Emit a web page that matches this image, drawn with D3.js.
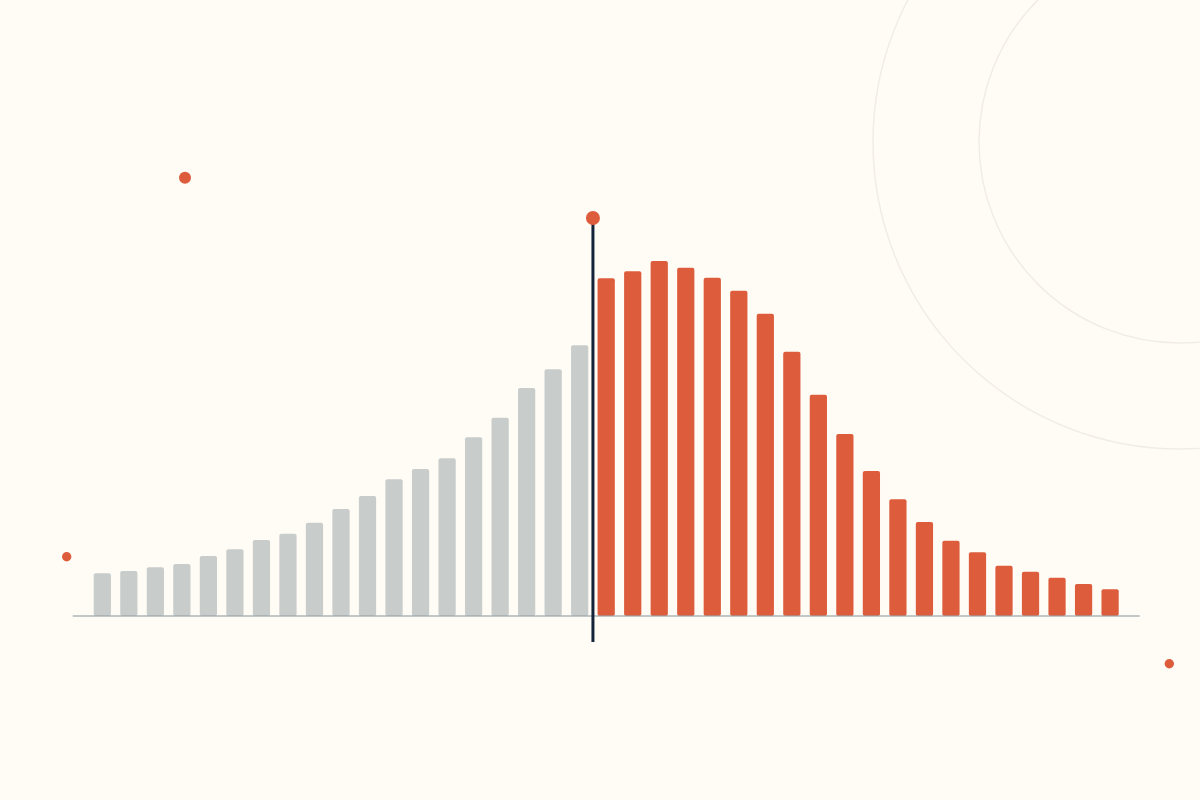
<!DOCTYPE html>
<html>
<head>
<meta charset="utf-8">
<script src="https://cdn.jsdelivr.net/npm/d3@7"></script>
<style>
  html, body { margin: 0; padding: 0; background: #fffcf5; }
  svg { display: block; }
</style>
</head>
<body>
<div id="chart"></div>
<script>
// values (height units)
let beforeValues = [42.7, 45, 48.7, 52, 60, 66.7, 76, 82.3, 93.3, 107, 120, 136.7, 147, 157.7, 178.7, 198.3, 228, 246.7, 270.7]
let afterValues = [337.7, 344.7, 355, 348.3, 338.3, 325.3, 302.3, 264.3, 221.3, 182, 145, 116.7, 94, 75.3, 63.7, 50.3, 44.3, 38.3, 32, 26.7]
let markerValue = 398

let width = 1200
let height = 800

let bars = beforeValues.map((v, i) => ({ i: i, v: v, side: 'before' }))
    .concat(afterValues.map((v, i) => ({ i: beforeValues.length + i, v: v, side: 'after' })))

let svg = d3.select('#chart')
    .append('svg')
    .attr('width', width)
    .attr('height', height)

svg.append('rect')
    .attr('width', width)
    .attr('height', height)
    .attr('fill', '#fffcf5')

// background rings, top right
svg.selectAll('.ring')
    .data([201, 307])
    .enter()
    .append('circle')
    .attr('class', 'ring')
    .attr('cx', 1180)
    .attr('cy', 142)
    .attr('r', (d) => d)
    .attr('fill', 'none')
    .attr('stroke', '#f1ede6')
    .attr('stroke-width', 1.5)

let x = d3.scaleBand()
    .domain(d3.range(bars.length))
    .range([93.7, 1118.7])
    .paddingInner(0.35)
    .paddingOuter(0)

let y = d3.scaleLinear()
    .domain([0, 400])
    .range([616, 216])

svg.selectAll('.bar')
    .data(bars)
    .enter()
    .append('rect')
    .attr('class', 'bar')
    .attr('x', (d) => x(d.i))
    .attr('y', (d) => y(d.v))
    .attr('width', x.bandwidth())
    .attr('height', (d) => y(0) - y(d.v))
    .attr('rx', 2)
    .attr('fill', (d) => d.side === 'before' ? '#c8cccb' : '#dd5c3c')

// baseline
svg.append('line')
    .attr('x1', x(0) - 21)
    .attr('x2', x(bars.length - 1) + x.bandwidth() + 21)
    .attr('y1', y(0))
    .attr('y2', y(0))
    .attr('stroke', '#97a1a6')
    .attr('stroke-opacity', 0.6)
    .attr('stroke-width', 2)

// marker between the two groups
let split = beforeValues.length
let mx = (x(split - 1) + x.bandwidth() + x(split)) / 2

svg.append('line')
    .attr('x1', mx)
    .attr('x2', mx)
    .attr('y1', y(markerValue))
    .attr('y2', y(0) + 26)
    .attr('stroke', '#13233a')
    .attr('stroke-width', 3)

svg.append('circle')
    .attr('cx', mx)
    .attr('cy', y(markerValue))
    .attr('r', 7)
    .attr('fill', '#dd5c3c')

// loose dots
let dots = [[185, 177.7, 6], [66.7, 556.7, 4.7], [1169.3, 663.7, 4.7]]

svg.selectAll('.dot')
    .data(dots)
    .enter()
    .append('circle')
    .attr('class', 'dot')
    .attr('cx', (d) => d[0])
    .attr('cy', (d) => d[1])
    .attr('r', (d) => d[2])
    .attr('fill', '#dd5c3c')
</script>
</body>
</html>
